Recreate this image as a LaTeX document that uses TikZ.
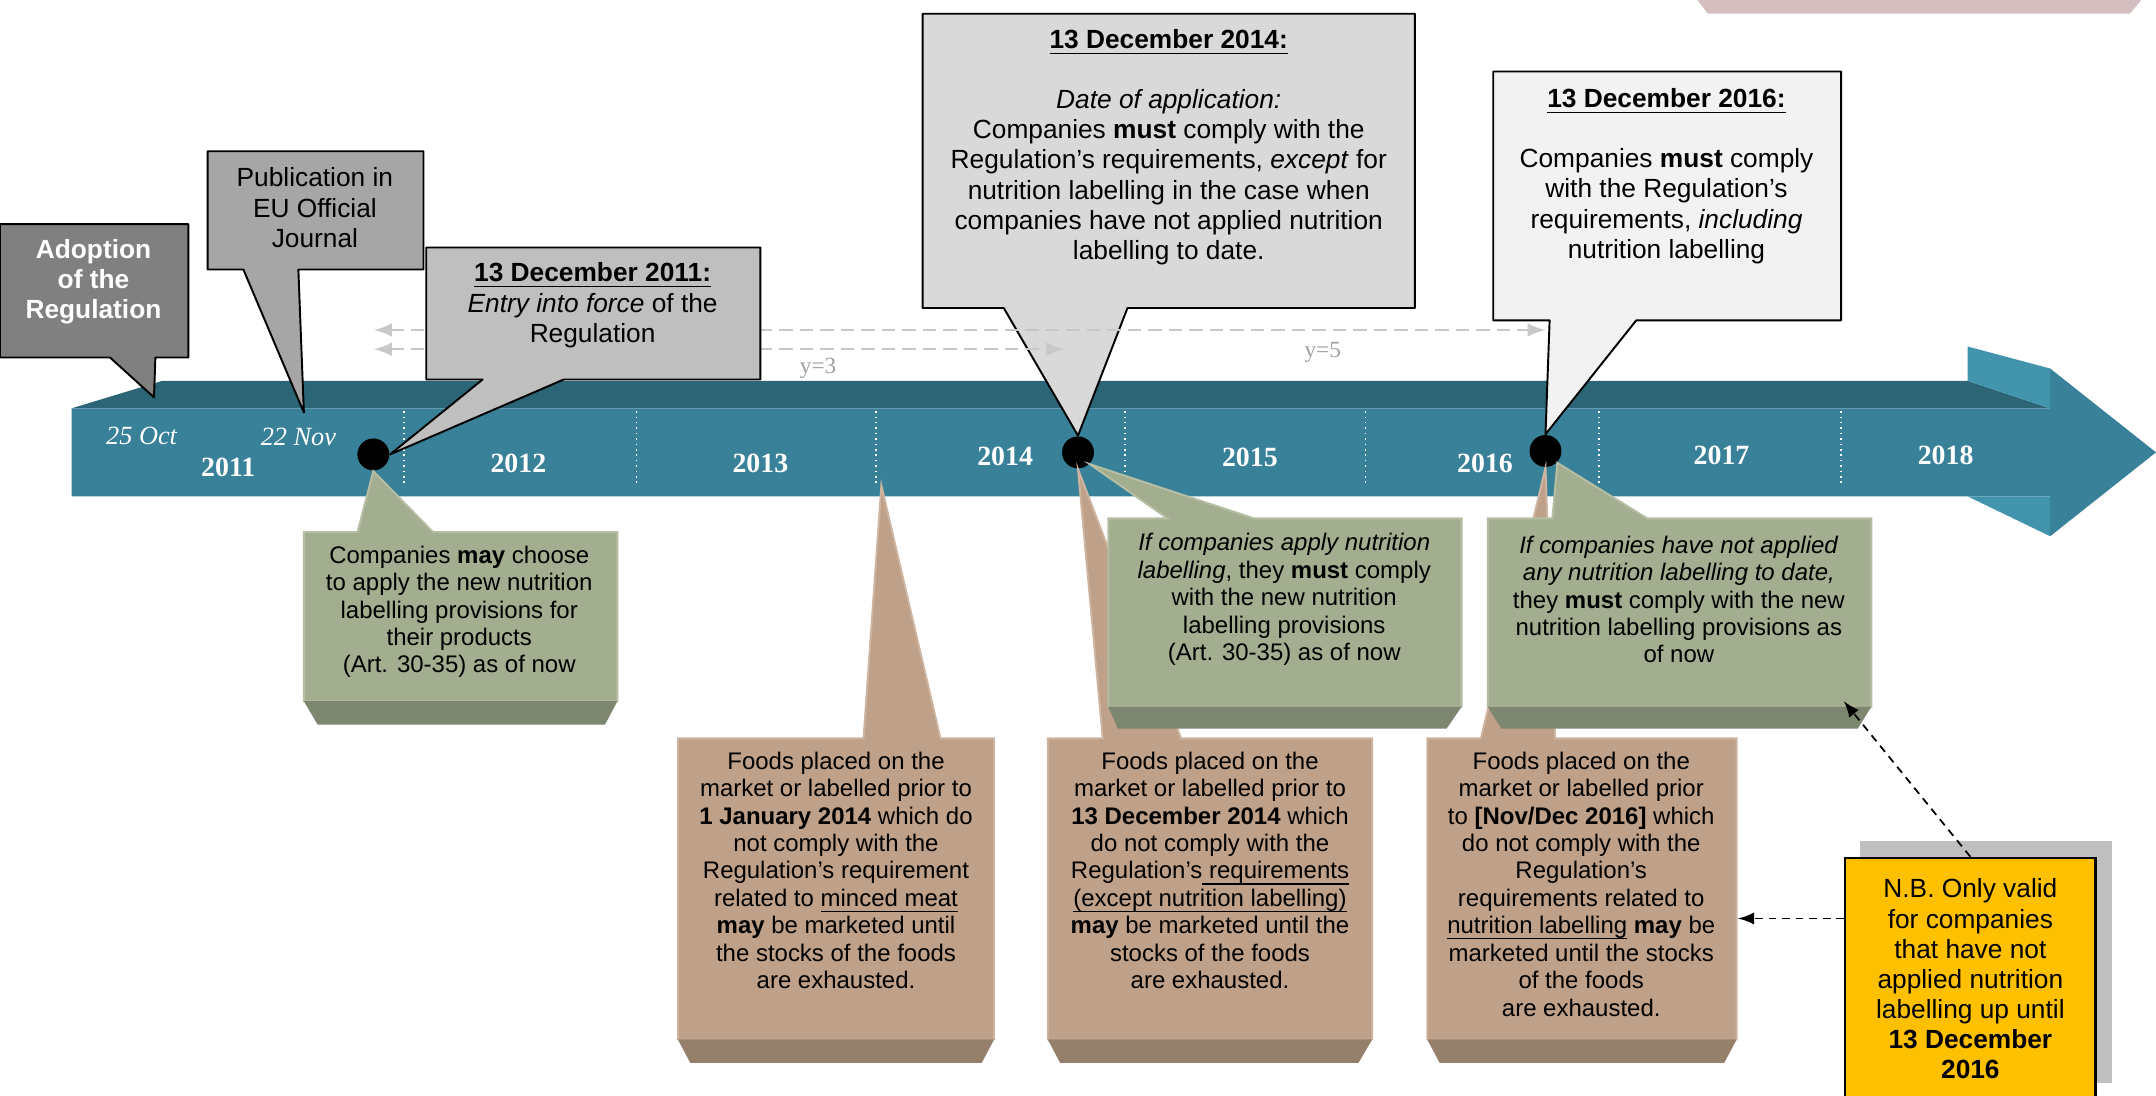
\documentclass[tikz,border=0pt]{standalone}
\usepackage{fontspec}
\setmainfont{Liberation Sans}
\newfontfamily\yrserif{Liberation Serif}
\usetikzlibrary{calc, shapes, arrows}
\newsavebox\ulbox
\newcommand{\ulx}[1]{\sbox\ulbox{#1}\rlap{\rule[-1.45pt]{\wd\ulbox}{0.35pt}}\usebox\ulbox}

\definecolor{bandfront}{RGB}{56,129,152}
\definecolor{bandtop}{RGB}{44,101,117}
\definecolor{bandflap}{RGB}{66,148,172}
\definecolor{adoptgrey}{RGB}{128,128,128}
\definecolor{pubgrey}{RGB}{166,166,166}
\definecolor{forcegrey}{RGB}{191,191,191}
\definecolor{applgrey}{RGB}{217,217,217}
\definecolor{fullgrey}{RGB}{242,242,242}
\definecolor{sage}{RGB}{163,173,143}
\definecolor{sagedark}{RGB}{125,134,111}
\definecolor{sagelight}{RGB}{182,191,163}
\definecolor{stockbrown}{RGB}{191,160,136}
\definecolor{stockdark}{RGB}{148,128,106}
\definecolor{stocklight}{RGB}{206,181,161}
\definecolor{nbyellow}{RGB}{255,192,0}
\definecolor{nbshadow}{RGB}{191,191,191}
\definecolor{spangrey}{RGB}{200,200,200}
\definecolor{lblgrey}{RGB}{160,160,160}
\definecolor{topblush}{RGB}{213,190,192}

\begin{document}
\begin{tikzpicture}[x=0.0125cm, y=-0.0125cm]
\tikzstyle{bigtxt}=[font=\fontsize{6.8}{7.8}\selectfont, align=center, inner sep=0pt]
\tikzstyle{smalltxt}=[font=\fontsize{6.2}{7.1}\selectfont, align=center, inner sep=0pt]
\tikzstyle{yearlbl}=[font=\yrserif\bfseries\fontsize{7.2}{8}\selectfont, text=white, inner sep=0pt]
\tikzstyle{daylbl}=[font=\yrserif\itshape\fontsize{6.8}{8}\selectfont, text=white, inner sep=0pt]
\tikzstyle{spanlbl}=[font=\yrserif\fontsize{6}{7}\selectfont, text=lblgrey, inner sep=0pt]
\tikzstyle{milestone}=[circle, fill=black, minimum size=0.29cm, inner sep=0pt]
\tikzstyle{upbox}=[draw=black, line width=0.5pt, line join=round]
\tikzstyle{greenbox}=[fill=sage, draw=sagelight, line width=0.5pt]
\tikzstyle{brownbox}=[fill=stockbrown, draw=stocklight, line width=0.5pt]
\tikzstyle{span}=[spangrey, line width=0.6pt, dash pattern=on 3.5pt off 1.8pt, latex-latex]
\tikzstyle{note}=[black, line width=0.45pt, dash pattern=on 2pt off 1.5pt, -latex]
\useasboundingbox (0,0) rectangle (1568,797);

% corner shape
\fill[topblush] (1233,-2) -- (1559,-2) -- (1549,10) -- (1242,10) -- cycle;

% timeline arrow
\fill[bandtop] (52,297) -- (118,277) -- (1431,277) -- (1491,297) -- cycle;
\fill[bandfront] (52,297) -- (1491,297) -- (1491,268) -- (1568,329) -- (1491,390) -- (1491,361) -- (52,361) -- cycle;
\fill[bandflap] (1431,252) -- (1491,268) -- (1491,297) -- (1431,277) -- cycle;
\fill[bandflap] (1431,361) -- (1491,361) -- (1491,390) -- cycle;
\foreach \x in {294,463,637,818,993,1163,1339}
  \draw[white, line width=0.4pt, densely dotted] (\x,299) -- (\x,354);
\foreach \x/\y/\yr in {166/340/2011, 377/337/2012, 553/337/2013, 731/332/2014, 909/333/2015, 1080/337/2016, 1252/331/2017, 1415/331/2018}
  \node[yearlbl] (yr\yr) at (\x,\y) {\yr};
\node[daylbl] (oct) at (103,317) {25 Oct};
\node[daylbl] (nov) at (217,318) {22 Nov};

\node[milestone] (d11) at (271.5,330.5) {};
\node[milestone] (d14) at (784,329) {};
\node[milestone] (d16) at (1124,328) {};
\coordinate (cut13) at (641,353);
\coordinate (oct25) at (112,289);
\coordinate (nov22) at (221,300);

% transitional stocks
\draw[brownbox] (493,537) -- (628,537) -- (cut13) -- (684,537) -- (723,537) -- (723,756) -- (493,756) -- cycle;
\fill[stockdark] (493,756) -- (723,756) -- (714,773) -- (502,773) -- cycle;
\node[smalltxt] (b1) at (608,633) {Foods placed on the\\market or labelled prior to\\\textbf{1 January 2014} which do\\not comply with the\\Regulation's requirement\\related to \ulx{minced meat}\\\textbf{may} be marketed until\\the stocks of the foods\\are exhausted.};
\draw[brownbox] (762,537) -- (802,537) -- (d14.south) -- (859,537) -- (998,537) -- (998,756) -- (762,756) -- cycle;
\fill[stockdark] (762,756) -- (998,756) -- (988,773) -- (771,773) -- cycle;
\node[smalltxt] (b2) at (880,633) {Foods placed on the\\market or labelled prior to\\\textbf{13 December 2014} which\\do not comply with the\\Regulation's\ulx{ requirements}\\\ulx{(except nutrition labelling)}\\\textbf{may} be marketed until the\\stocks of the foods\\are exhausted.};
\draw[brownbox] (1038,537) -- (1077,537) -- (d16.south) -- (1131,537) -- (1263,537) -- (1263,756) -- (1038,756) -- cycle;
\fill[stockdark] (1038,756) -- (1263,756) -- (1254,773) -- (1047,773) -- cycle;
\node[smalltxt] (b3) at (1150,643) {Foods placed on the\\market or labelled prior\\to \textbf{[Nov/Dec 2016]} which\\do not comply with the\\Regulation's\\requirements related to\\\ulx{nutrition labelling} \textbf{may} be\\marketed until the stocks\\of the foods\\are exhausted.};

% nutrition labelling
\draw[greenbox] (221,387) -- (260,387) -- (d11.south) -- (315,387) -- (449,387) -- (449,510) -- (221,510) -- cycle;
\fill[sagedark] (221,510) -- (449,510) -- (440,527) -- (231,527) -- cycle;
\node[smalltxt] (g1) at (334,445) {Companies \textbf{may} choose\\to apply the new nutrition\\labelling provisions for\\their products\\(Art. 30-35) as of now};
\draw[greenbox] (806,377) -- (849,377) -- (d14.south east) -- (912,377) -- (1063,377) -- (1063,514) -- (806,514) -- cycle;
\fill[sagedark] (806,514) -- (1063,514) -- (1052,530) -- (813,530) -- cycle;
\node[smalltxt] (g2) at (934,436) {\textit{If companies apply nutrition}\\\textit{labelling}, they \textbf{must} comply\\with the new nutrition\\labelling provisions\\(Art. 30-35) as of now};
\draw[greenbox] (1082,377) -- (1129,377) -- (d16.south east) -- (1198,377) -- (1361,377) -- (1361,514) -- (1082,514) -- cycle;
\fill[sagedark] (1082,514) -- (1361,514) -- (1351,530) -- (1092,530) -- cycle;
\node[smalltxt] (g3) at (1221,436) {\textit{If companies have not applied}\\\textit{any nutrition labelling to date,}\\they \textbf{must} comply with the new\\nutrition labelling provisions as\\of now};

% milestones above
\draw[upbox, fill=applgrey] (671,10) -- (1029,10) -- (1029,224) -- (820,224) -- (d14.north) -- (730,224) -- (671,224) -- cycle;
\node[bigtxt] (t14) at (850,107) {\ulx{\textbf{13 December 2014:}}\\[7.8pt]\textit{Date of application:}\\Companies \textbf{must} comply with the\\Regulation's requirements, \textit{except} for\\nutrition labelling in the case when\\companies have not applied nutrition\\labelling to date.};

\coordinate (s1a) at (272,240);
\coordinate (s1b) at (1124,240);
\coordinate (s2a) at (272,254);
\coordinate (s2b) at (774,254);
\draw[span] (s1a) -- (s1b);
\draw[span] (s2a) -- (s2b);
\node[spanlbl] (y3) at (595,268) {y=3};
\node[spanlbl] (y5) at (962,256) {y=5};

\draw[upbox, fill=fullgrey] (1086,52) -- (1339,52) -- (1339,233) -- (1190,233) -- (d16.north) -- (1127,233) -- (1086,233) -- cycle;
\node[bigtxt] (t16) at (1212,128) {\ulx{\textbf{13 December 2016:}}\\[7.8pt]Companies \textbf{must} comply\\with the Regulation's\\requirements, \textit{including}\\nutrition labelling};

\draw[upbox, fill=adoptgrey] (0,163) -- (137,163) -- (137,260) -- (113,260) -- (oct25) -- (80,260) -- (0,260) -- cycle;
\node[bigtxt, text=white] (adopt) at (68,205) {\textbf{Adoption}\\\textbf{of the}\\\textbf{Regulation}};
\draw[upbox, fill=pubgrey] (151,110) -- (308,110) -- (308,196) -- (217,196) -- (nov22) -- (177,196) -- (151,196) -- cycle;
\node[bigtxt] (pub) at (229,151) {Publication in\\EU Official\\Journal};
\draw[upbox, fill=forcegrey] (310,180) -- (553,180) -- (553,276) -- (410,276) -- (d11.east) -- (351,276) -- (310,276) -- cycle;
\node[bigtxt] (t11) at (431,222) {\ulx{\textbf{13 December 2011:}}\\\textit{Entry into force} of the\\Regulation};

% note
\fill[nbshadow] (1353,612) rectangle (1536,788);
\node[bigtxt, fill=nbyellow, draw=black, line width=0.6pt, minimum width=2.275cm, minimum height=2.2cm] (nb) at (1433,712) {N.B. Only valid\\for companies\\that have not\\applied nutrition\\labelling up until\\\textbf{13 December}\\\textbf{2016}};
\coordinate (g3edge) at (1341,510);
\coordinate (b3edge) at (1264,668);
\draw[note] (nb.north) -- (g3edge);
\draw[note] (nb.west |- b3edge) -- (b3edge);
\end{tikzpicture}
\end{document}
